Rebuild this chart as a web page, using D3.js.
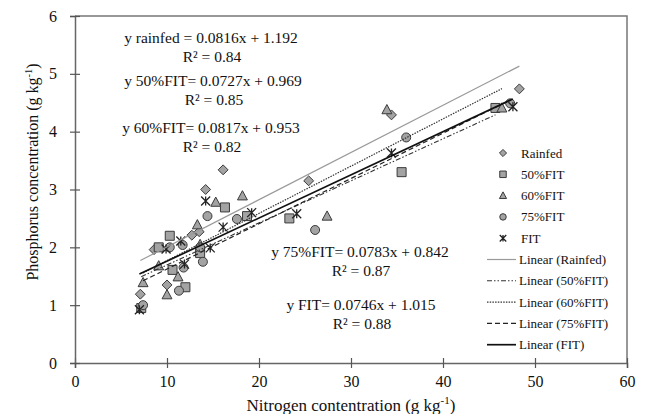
<!DOCTYPE html>
<html>
<head>
<meta charset="utf-8">
<script src="https://cdn.jsdelivr.net/npm/d3@7"></script>
<style>
  body { margin: 0; background: #fff; }
  text { font-family: "Liberation Serif", "Times New Roman", serif; fill: #111; }
</style>
</head>
<body>
<div id="chart"></div>
<script>
// Series values (N = nitrogen, P = phosphorus, g kg-1)
const rainfedN = [7.1, 8.6, 10.0, 12.7, 13.5, 14.2, 16.1, 25.4, 34.4, 48.3];
const rainfedP = [1.19, 1.96, 1.35, 2.21, 2.27, 3.00, 3.34, 3.15, 4.29, 4.74];

const fit50N = [7.2, 9.1, 10.3, 10.6, 12.0, 13.6, 16.3, 18.7, 23.3, 35.5, 45.7];
const fit50P = [0.95, 2.00, 2.20, 1.61, 1.31, 1.90, 2.69, 2.54, 2.50, 3.30, 4.41];

const fit60N = [7.4, 9.1, 10.0, 11.2, 13.3, 13.6, 15.3, 18.2, 27.4, 33.9, 46.4];
const fit60P = [1.39, 1.68, 1.18, 1.49, 2.39, 2.05, 2.78, 2.89, 2.54, 4.38, 4.41];

const fit75N = [7.4, 10.3, 11.3, 11.7, 11.8, 13.6, 13.9, 14.4, 17.6, 26.1, 36.0, 47.3];
const fit75P = [1.00, 2.00, 1.25, 2.04, 1.65, 2.00, 1.75, 2.54, 2.49, 2.30, 3.90, 4.49];

const fitN = [7.0, 9.9, 11.5, 11.9, 14.2, 14.7, 16.1, 19.2, 24.1, 34.4, 47.6];
const fitP = [0.92, 1.97, 2.11, 1.71, 2.80, 1.99, 2.35, 2.60, 2.58, 3.63, 4.43];

const seriesNames = ["Rainfed", "50%FIT", "60%FIT", "75%FIT", "FIT"];
const slopes = [0.0816, 0.0727, 0.0817, 0.0783, 0.0746];
const intercepts = [1.192, 0.969, 0.953, 0.842, 1.015];
const r2Values = ["0.84", "0.85", "0.82", "0.87", "0.88"];
const eqLabels = ["y rainfed = 0.0816x + 1.192", "y 50%FIT= 0.0727x + 0.969",
  "y 60%FIT= 0.0817x + 0.953", "y 75%FIT= 0.0783x + 0.842", "y FIT= 0.0746x + 1.015"];

const xTicks = [0, 10, 20, 30, 40, 50, 60];
const yTicks = [0, 1, 2, 3, 4, 5, 6];

const seriesX = [rainfedN, fit50N, fit60N, fit75N, fitN];
const seriesY = [rainfedP, fit50P, fit60P, fit75P, fitP];

// Layout
const W = 645, H = 414;
const plotL = 75, plotR = 627, plotT = 16, plotB = 363;

const svg = d3.select("#chart").append("svg")
  .attr("width", W).attr("height", H);

const x = d3.scaleLinear().domain([0, 60]).range([plotL, plotR]);
const y = d3.scaleLinear().domain([0, 6]).range([plotB, plotT]);

// plot frame (top and right)
svg.append("path")
  .attr("d", `M${plotL},${plotT}H${plotR}V${plotB}`)
  .attr("fill", "none").attr("stroke", "#777").attr("stroke-width", 1.5);

// Axes with cross tick marks
const xAxis = svg.append("g")
  .attr("transform", `translate(0,${plotB})`)
  .call(d3.axisBottom(x).tickValues(xTicks).tickSize(5).tickFormat(d3.format("d")));
xAxis.selectAll(".tick line").attr("y1", -5).attr("y2", 5);
xAxis.selectAll("text").attr("y", 13).attr("font-size", 16);

const yAxis = svg.append("g")
  .attr("transform", `translate(${plotL},0)`)
  .call(d3.axisLeft(y).tickValues(yTicks).tickSize(5).tickFormat(d3.format("d")));
yAxis.selectAll(".tick line").attr("x1", -5).attr("x2", 5);
yAxis.selectAll("text").attr("x", -18).attr("font-size", 16);

[xAxis, yAxis].forEach(g => {
  g.select(".domain").attr("stroke", "#666").attr("stroke-width", 1.5);
  g.selectAll(".tick line").attr("stroke", "#555").attr("stroke-width", 1.2);
  g.selectAll("text").attr("font-family", "Liberation Serif").attr("fill", "#111");
});

// Axis titles
const xTitle = svg.append("text")
  .attr("x", (plotL + plotR) / 2).attr("y", 411)
  .attr("text-anchor", "middle").attr("font-size", 17)
  .text("Nitrogen contentration (g kg");
xTitle.append("tspan").attr("font-size", 11).attr("dy", -7).text("-1");
xTitle.append("tspan").attr("dy", 7).text(")");

const yTitle = svg.append("text")
  .attr("transform", `translate(38,172) rotate(-90)`)
  .attr("text-anchor", "middle").attr("font-size", 16)
  .text("Phosphorus concentration (g kg");
yTitle.append("tspan").attr("font-size", 10.5).attr("dy", -6).text("-1");
yTitle.append("tspan").attr("dy", 6).text(")");

// Marker shapes
function markerPath(i, s) {
  const h = s / 2;
  if (i === 0) return `M0,${-h * 1.1}L${h * 1.1},0L0,${h * 1.1}L${-h * 1.1},0Z`;
  if (i === 1) return `M${-h},${-h}H${h}V${h}H${-h}Z`;
  if (i === 2) return `M0,${-h * 1.15}L${h * 1.1},${h * 0.9}L${-h * 1.1},${h * 0.9}Z`;
  if (i === 3) return d3.arc()({ innerRadius: 0, outerRadius: h, startAngle: 0, endAngle: 2 * Math.PI });
  return `M${-h},${-h}L${h},${h}M${-h},${h}L${h},${-h}M0,${-h}V${h}`;
}

function drawMarker(g, i, s) {
  g.append("path")
    .attr("d", markerPath(i, s))
    .attr("fill", i === 4 ? "none" : "#a3a3a3")
    .attr("stroke", i === 4 ? "#222" : "#3a3a3a")
    .attr("stroke-width", i === 4 ? 1.3 : 1);
}

// Data points
seriesX.forEach((xs, i) => {
  const pts = xs.map((v, k) => ({ n: v, p: seriesY[i][k] }));
  pts.forEach(d => {
    const g = svg.append("g").attr("transform", `translate(${x(d.n)},${y(d.p)})`);
    drawMarker(g, i, 9);
  });
});

// Trendline styles
const lineStyles = [
  { stroke: "#9a9a9a", width: 1.2, dash: null },
  { stroke: "#333", width: 1.1, dash: "5,2,1.5,2,1.5,2" },
  { stroke: "#333", width: 1.2, dash: "1.5,1.2" },
  { stroke: "#222", width: 1.2, dash: "5,3" },
  { stroke: "#111", width: 1.7, dash: null }
];

seriesX.forEach((xs, i) => {
  const [x0, x1] = d3.extent(xs);
  const st = lineStyles[i];
  svg.append("line")
    .attr("x1", x(x0)).attr("y1", y(slopes[i] * x0 + intercepts[i]))
    .attr("x2", x(x1)).attr("y2", y(slopes[i] * x1 + intercepts[i]))
    .attr("stroke", st.stroke).attr("stroke-width", st.width)
    .attr("stroke-dasharray", st.dash);
});

// Equation labels
const eqPos = [[211, 43], [213, 86], [211, 133], [360, 257], [361, 310]];
eqLabels.forEach((t, i) => {
  svg.append("text").attr("x", eqPos[i][0]).attr("y", eqPos[i][1])
    .attr("text-anchor", "middle").attr("font-size", 15.5).text(t);
  svg.append("text").attr("x", eqPos[i][0] + 1).attr("y", eqPos[i][1] + 19)
    .attr("text-anchor", "middle").attr("font-size", 15.5).text("R² = " + r2Values[i]);
});

// Legend
const legend = svg.append("g");
const rowY = i => 153 + i * 21.3;
seriesNames.forEach((name, i) => {
  const g = legend.append("g").attr("transform", `translate(503,${rowY(i)})`);
  drawMarker(g, i, 6.5);
  legend.append("text").attr("x", 521).attr("y", rowY(i)).attr("dy", "0.35em")
    .attr("font-size", 13).text(name);
});
seriesNames.forEach((name, i) => {
  const yy = rowY(i + 5);
  const st = lineStyles[i];
  legend.append("line").attr("x1", 487).attr("x2", 516).attr("y1", yy).attr("y2", yy)
    .attr("stroke", st.stroke).attr("stroke-width", st.width)
    .attr("stroke-dasharray", st.dash);
  legend.append("text").attr("x", 519).attr("y", yy).attr("dy", "0.35em")
    .attr("font-size", 13).text("Linear (" + name + ")");
});
</script>
</body>
</html>
